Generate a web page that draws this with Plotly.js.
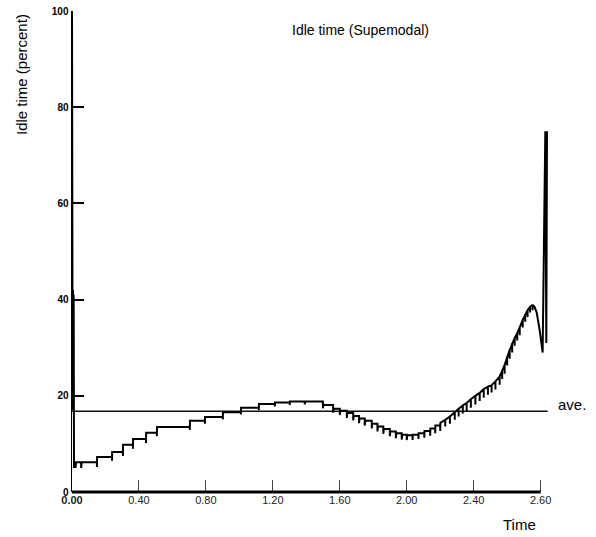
<!DOCTYPE html>
<html>
<head>
<meta charset="utf-8">
<script src="https://cdn.plot.ly/plotly-3.0.1.min.js"></script>
<style>
  html, body { margin: 0; padding: 0; background: #fff; }
  #chart { width: 596px; height: 537px; }
</style>
</head>
<body>
<div id="chart"></div>
<script>
// Time positions (axis units; the last tick, labelled "2.60", sits at position 2.8)
const timePos = [
  0.000, 0.002, 0.004, 0.006, 0.008, 0.010, 0.012, 0.014,
  0.020, 0.021, 0.024, 0.054, 0.055, 0.058,
  0.149, 0.149, 0.150,
  0.239, 0.239, 0.240,
  0.304, 0.304, 0.305,
  0.364, 0.364, 0.365,
  0.442, 0.442, 0.443,
  0.507, 0.507, 0.508,
  0.704, 0.704, 0.705,
  0.794, 0.794, 0.795,
  0.901, 0.901, 0.902,
  1.009, 1.009, 1.010,
  1.116, 1.116, 1.117,
  1.212, 1.212, 1.213,
  1.301, 1.301, 1.302,
  1.390, 1.391, 1.393,
  1.499, 1.499, 1.502,
  1.560, 1.560, 1.563,
  1.600, 1.600, 1.603,
  1.642, 1.642, 1.645,
  1.680, 1.680, 1.683,
  1.715, 1.715, 1.718,
  1.749, 1.749, 1.752,
  1.791, 1.791, 1.794,
  1.825, 1.825, 1.828,
  1.860, 1.860, 1.863,
  1.899, 1.899, 1.902,
  1.935, 1.935, 1.938,
  1.970, 1.970, 1.973,
  2.000, 2.000, 2.003,
  2.035, 2.035, 2.036,
  2.070, 2.070, 2.071,
  2.105, 2.105, 2.106,
  2.140, 2.140, 2.141,
  2.170, 2.170, 2.171,
  2.200, 2.200, 2.201,
  2.230, 2.230, 2.230,
  2.258, 2.258, 2.258,
  2.287, 2.287, 2.287,
  2.310, 2.310, 2.310,
  2.335, 2.335, 2.335,
  2.358, 2.358, 2.358,
  2.383, 2.383, 2.383,
  2.410, 2.410, 2.410,
  2.436, 2.436, 2.436,
  2.460, 2.460, 2.460,
  2.485, 2.485, 2.485,
  2.507, 2.507, 2.507,
  2.530, 2.530, 2.530,
  2.555, 2.555, 2.555,
  2.570, 2.570, 2.570,
  2.585, 2.585, 2.585,
  2.600, 2.600, 2.600,
  2.615, 2.615, 2.615,
  2.630, 2.630, 2.630,
  2.645, 2.645, 2.645,
  2.660, 2.660, 2.660,
  2.675, 2.675, 2.675,
  2.693, 2.693, 2.693,
  2.708, 2.708, 2.708,
  2.722, 2.722, 2.722,
  2.737, 2.737, 2.737,
  2.752, 2.752, 2.752,
  2.762, 2.776, 2.794, 2.812, 2.828, 2.834, 2.838
];
// Idle time (percent)
const idlePct = [
  100, 43, 17, 42, 17, 41, 5, 6.2,
  6.2, 5.0, 6.2, 6.2, 5.0, 6.2,
  6.2, 5.2, 7.3,
  7.3, 6.5, 8.3,
  8.3, 7.5, 9.8,
  9.8, 9.0, 11.0,
  11.0, 10.2, 12.3,
  12.3, 11.6, 13.5,
  13.5, 12.9, 14.8,
  14.8, 14.2, 15.6,
  15.6, 15.1, 16.6,
  16.6, 16.1, 17.5,
  17.5, 17.0, 18.3,
  18.3, 17.8, 18.6,
  18.6, 18.1, 18.8,
  18.8, 18.2, 18.8,
  18.8, 17.4, 18.1,
  18.1, 16.5, 17.3,
  17.3, 16.0, 16.9,
  16.9, 15.4, 16.4,
  16.4, 14.9, 15.8,
  15.8, 14.3, 15.3,
  15.3, 13.8, 14.8,
  14.8, 13.2, 14.2,
  14.2, 12.6, 13.6,
  13.6, 12.1, 13.1,
  13.1, 11.6, 12.6,
  12.6, 11.2, 12.2,
  12.2, 10.9, 11.9,
  11.9, 10.8, 11.8,
  11.8, 10.8, 11.9,
  11.9, 11.0, 12.2,
  12.2, 11.3, 12.7,
  12.7, 11.7, 13.2,
  13.2, 12.2, 13.8,
  13.8, 12.7, 14.4,
  15.0, 13.6, 15.0,
  15.7, 14.2, 15.7,
  16.6, 15.0, 16.6,
  17.3, 15.7, 17.3,
  18.0, 16.3, 18.0,
  18.5, 16.8, 18.5,
  19.3, 17.5, 19.3,
  20.0, 18.2, 20.0,
  20.6, 18.9, 20.6,
  21.4, 19.6, 21.4,
  21.9, 20.2, 21.9,
  22.2, 20.7, 22.2,
  23.0, 21.3, 23.0,
  24.0, 22.3, 24.0,
  25.2, 23.5, 25.2,
  26.4, 24.6, 26.4,
  28.0, 26.3, 28.0,
  29.5, 27.7, 29.5,
  30.8, 29.0, 30.8,
  32.0, 30.4, 32.0,
  33.0, 31.5, 33.0,
  34.2, 32.6, 34.2,
  35.8, 34.2, 35.8,
  36.8, 35.4, 36.8,
  37.8, 36.4, 37.8,
  38.5, 37.3, 38.5,
  38.9, 37.8, 38.9,
  38.6, 37.4, 33.7, 29.0, 75, 31, 75
];
const averageIdle = 16.8;
const averageSpan = [0, 2.842];

const xTickVals = [0, 0.4, 0.8, 1.2, 1.6, 2.0, 2.4, 2.8];
const xTickText = ['<b>0.00</b>', '0.40', '0.80', '1.20', '1.60', '2.00', '2.40', '2.60'];
const yTickVals = [0, 20, 40, 60, 80, 100];
const yTickText = ['0', '20', '40', '60', '80', '100'];

const FONT = 'Liberation Sans, Arial, Helvetica, sans-serif';

const traces = [
  {
    x: averageSpan, y: [averageIdle, averageIdle],
    mode: 'lines', line: { color: '#111', width: 1.5 },
    hoverinfo: 'skip', showlegend: false, cliponaxis: false
  },
  {
    x: timePos, y: idlePct,
    mode: 'lines', line: { color: '#000', width: 2 },
    showlegend: false, cliponaxis: false
  }
];

const layout = {
  width: 596, height: 537,
  margin: { l: 72, r: 47, t: 11, b: 45 },
  paper_bgcolor: '#fff', plot_bgcolor: '#fff',
  showlegend: false,
  font: { family: FONT, color: '#000' },
  xaxis: {
    range: [0, 2.85], showgrid: false, zeroline: false, showline: false,
    tickmode: 'array', tickvals: xTickVals, ticktext: xTickText,
    ticks: 'inside', ticklen: 12, tickwidth: 1, tickcolor: '#444',
    tickfont: { family: FONT, size: 11, color: '#222' }
  },
  yaxis: {
    range: [0, 100], showgrid: false, zeroline: false,
    showline: true, linewidth: 1.5, linecolor: '#000',
    tickmode: 'array', tickvals: yTickVals, ticktext: yTickText,
    ticks: 'inside', ticklen: 12, tickwidth: 2, tickcolor: '#000',
    tickfont: { family: FONT, size: 10, color: '#000', weight: 'bold' }
  },
  shapes: [
    { type: 'line', xref: 'x', yref: 'paper', x0: 0, x1: 2.8, y0: 0, y1: 0,
      line: { color: '#000', width: 3 } }
  ],
  annotations: [
    { text: 'Idle time (Supemodal)', xref: 'paper', yref: 'paper',
      x: (360 - 72) / 477, y: 1 - (30 - 11) / 481, xanchor: 'center', yanchor: 'middle',
      showarrow: false, font: { family: FONT, size: 14, color: '#000' } },
    { text: 'Idle time (percent)', xref: 'paper', yref: 'paper',
      x: (21 - 72) / 477, y: 1 - (75 - 11) / 481, xanchor: 'center', yanchor: 'middle',
      textangle: -90, showarrow: false, font: { family: FONT, size: 15, color: '#000' } },
    { text: 'ave.', xref: 'paper', yref: 'paper',
      x: (556 - 72) / 477, y: 1 - (404 - 11) / 481, xanchor: 'left', yanchor: 'middle',
      showarrow: false, font: { family: FONT, size: 15, color: '#000' } },
    { text: 'Time', xref: 'paper', yref: 'paper',
      x: (538 - 72) / 477, y: -(524 - 492) / 481, xanchor: 'right', yanchor: 'middle',
      showarrow: false, font: { family: FONT, size: 15, color: '#000' } }
  ]
};

Plotly.newPlot('chart', traces, layout, { displayModeBar: false, staticPlot: true });
</script>
</body>
</html>
